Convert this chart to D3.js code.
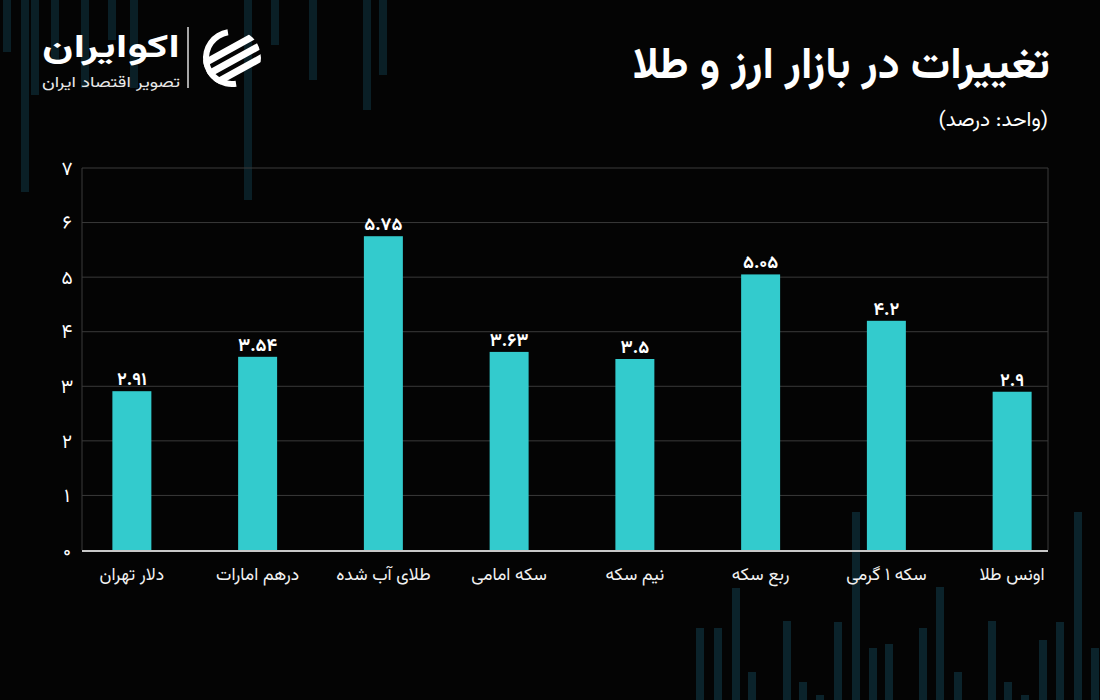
<!DOCTYPE html>
<html>
<head>
<meta charset="utf-8">
<script src="https://cdn.jsdelivr.net/npm/d3@7"></script>
<style>
  html, body { margin: 0; padding: 0; background: #040404; }
  svg { display: block; }
  .fa { font-family: "Vazirmatn", "Noto Sans Arabic", "DejaVu Sans", sans-serif; }
</style>
</head>
<body>
<div id="chart"></div>
<script>
// ---- data ----
const categories = ["دلار تهران", "درهم امارات", "طلای آب شده", "سکه امامی", "نیم سکه", "ربع سکه", "سکه ۱ گرمی", "اونس طلا"];
const values = [2.91, 3.54, 5.75, 3.63, 3.5, 5.05, 4.2, 2.9];
const yTicks = [0, 1, 2, 3, 4, 5, 6, 7];
const title = "تغییرات در بازار ارز و طلا";
const unitLabel = "(واحد: درصد)";
const brandName = "اکوایران";
const brandTagline = "تصویر اقتصاد ایران";

// decorative background candles: [x, top, bottom]
const decoTop = [[7,0,52],[25,0,192],[35,0,95],[55,0,60],[85,0,88],[112,0,40],[134,0,88],[248,0,200],[275,0,45],[313,0,80],[367,0,110],[383,0,75]];
const decoBottom = [[700,628,700],[718,628,700],[736,588,700],[752,672,700],[787,621,700],[803,682,700],[820,695,700],[838,622,700],[856,512,700],[873,648,700],[889,644,700],[923,628,700],[940,587,700],[958,672,700],[992,621,700],[1008,682,700],[1025,695,700],[1043,640,700],[1060,622,700],[1078,512,700],[1095,648,700]];

const W = 1100, H = 700;
const toFa = s => String(s).replace(/[0-9]/g, d => "۰۱۲۳۴۵۶۷۸۹"[+d]);

const svg = d3.select("#chart").append("svg").attr("width", W).attr("height", H);
svg.append("rect").attr("width", W).attr("height", H).attr("fill", "#040404");

// background decoration
const deco = svg.append("g");
deco.selectAll("rect.t").data(decoTop).join("rect")
  .attr("x", d => d[0] - 4).attr("y", d => d[1]).attr("width", 8).attr("height", d => d[2] - d[1])
  .attr("fill", "#0a1f26");
deco.selectAll("rect.b").data(decoBottom).join("rect")
  .attr("x", d => d[0] - 4).attr("y", d => d[1]).attr("width", 8).attr("height", d => d[2] - d[1])
  .attr("fill", "#0b232b");

// plot geometry
const plotL = 82, plotR = 1048, plotT = 168, plotB = 550;
const y = d3.scaleLinear().domain([0, 7]).range([plotB, plotT]);
const x = d3.scaleBand().domain(categories).range([69, 1075]).paddingInner(0.69).paddingOuter(0.345);

// gridlines
svg.append("g").selectAll("line").data(yTicks.filter(t => t > 0)).join("line")
  .attr("x1", plotL).attr("x2", plotR)
  .attr("y1", d => y(d)).attr("y2", d => y(d))
  .attr("stroke", "#3a3a3a").attr("stroke-width", 1);
// frame sides
svg.append("line").attr("x1", plotL).attr("x2", plotL).attr("y1", plotT).attr("y2", plotB).attr("stroke", "#3a3a3a");
svg.append("line").attr("x1", plotR).attr("x2", plotR).attr("y1", plotT).attr("y2", plotB).attr("stroke", "#3a3a3a");

// y tick labels
svg.append("g").selectAll("text").data(yTicks).join("text")
  .attr("class", "fa")
  .attr("x", 67).attr("y", d => y(d)).attr("dy", "0.35em")
  .attr("text-anchor", "middle").attr("fill", "#ffffff")
  .attr("font-size", 19)
  .text(d => toFa(d));

// bars
svg.append("g").selectAll("rect").data(values).join("rect")
  .attr("x", (d, i) => x(categories[i]))
  .attr("width", x.bandwidth())
  .attr("y", d => y(d))
  .attr("height", d => y(0) - y(d))
  .attr("fill", "#33cbcd");

// bottom axis line
svg.append("line").attr("x1", plotL).attr("x2", plotR).attr("y1", plotB + 1).attr("y2", plotB + 1)
  .attr("stroke", "#c8c8c8").attr("stroke-width", 2);

// value labels
svg.append("g").selectAll("text").data(values).join("text")
  .attr("class", "fa")
  .attr("x", (d, i) => x(categories[i]) + x.bandwidth() / 2)
  .attr("y", d => y(d) - 6)
  .attr("text-anchor", "middle").attr("fill", "#ffffff")
  .attr("font-size", 18).attr("font-weight", "bold")
  .text(d => toFa(d));

// category labels
svg.append("g").selectAll("text").data(categories).join("text")
  .attr("class", "fa")
  .attr("x", d => x(d) + x.bandwidth() / 2)
  .attr("y", 580)
  .attr("text-anchor", "middle").attr("fill", "#f2f2f2")
  .attr("font-size", 17.5)
  .text(d => d);

// title
svg.append("text").attr("class", "fa")
  .attr("x", 1050).attr("y", 78)
  .attr("direction", "rtl").attr("text-anchor", "start")
  .attr("fill", "#ffffff").attr("font-size", 44).attr("font-weight", "bold")
  .text(title);
svg.append("text").attr("class", "fa")
  .attr("x", 1048).attr("y", 126)
  .attr("direction", "rtl").attr("text-anchor", "start")
  .attr("fill", "#ffffff").attr("font-size", 21)
  .text(unitLabel);

// logo
const logo = svg.append("g");
logo.append("text").attr("class", "fa")
  .attr("x", 180).attr("y", 57).attr("direction", "rtl").attr("text-anchor", "start")
  .attr("fill", "#ffffff").attr("font-size", 32).attr("font-weight", "bold")
  .attr("textLength", 138).attr("lengthAdjust", "spacingAndGlyphs")
  .text(brandName);
logo.append("text").attr("class", "fa")
  .attr("x", 180).attr("y", 87).attr("direction", "rtl").attr("text-anchor", "start")
  .attr("fill", "#e8e8e8").attr("font-size", 15)
  .attr("textLength", 138).attr("lengthAdjust", "spacingAndGlyphs")
  .text(brandTagline);
logo.append("line").attr("x1", 188).attr("x2", 188).attr("y1", 27).attr("y2", 88)
  .attr("stroke", "#dddddd").attr("stroke-width", 1.5);
// emblem
const cx = 232, cy = 58, r = 29;
svg.append("defs").append("clipPath").attr("id", "emb").append("circle").attr("cx", cx).attr("cy", cy).attr("r", r);
const arc = d3.arc().innerRadius(r - 6).outerRadius(r);
logo.append("path").attr("transform", `translate(${cx},${cy})`)
  .attr("d", arc({startAngle: Math.PI * 0.95, endAngle: Math.PI * 1.95}))
  .attr("fill", "#ffffff");
const emb = logo.append("g").attr("clip-path", "url(#emb)");
[-14, -1, 12].forEach(off => {
  emb.append("path")
    .attr("d", `M ${cx - 40} ${cy + off + 22} L ${cx + 40} ${cy + off - 22} L ${cx + 40} ${cy + off - 14} L ${cx - 40} ${cy + off + 30} Z`)
    .attr("fill", "#ffffff");
});
</script>
</body>
</html>
